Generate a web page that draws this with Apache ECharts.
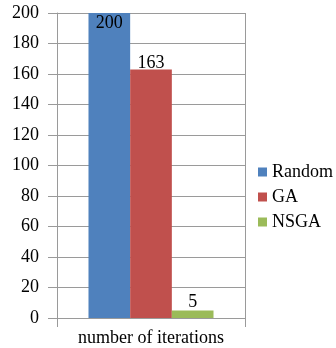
<!DOCTYPE html>
<html>
<head>
<meta charset="utf-8">
<script src="https://cdn.jsdelivr.net/npm/echarts@6/dist/echarts.min.js"></script>
<style>
  html, body { margin: 0; padding: 0; background: #fff; }
  #chart { width: 336px; height: 348px; }
</style>
</head>
<body>
<div id="chart"></div>
<script>
// Iteration counts per optimisation method
const categories = ['number of iterations'];
const seriesNames = ['Random', 'GA', 'NSGA'];
const randomValues = [200];
const gaValues = [163];
const nsgaValues = [5];
const yTicks = [0, 20, 40, 60, 80, 100, 120, 140, 160, 180, 200];

const colors = ['#4F81BD', '#C0504D', '#9BBB59'];
const font = '"Liberation Serif", "Times New Roman", serif';
const gridGray = '#9a9a9a';
const fontSize = 18;

const chart = echarts.init(document.getElementById('chart'));

function barSeries(name, values, color, labelPos, labelDist) {
  return {
    name: name,
    type: 'bar',
    data: values,
    itemStyle: { color: color },
    barGap: '0%',
    barCategoryGap: '33.5%',
    label: {
      show: true,
      position: labelPos,
      distance: labelDist,
      color: '#000',
      fontFamily: font,
      fontSize: fontSize
    }
  };
}

chart.setOption({
  animation: false,
  backgroundColor: '#fff',
  grid: { left: 57, right: 91, top: 13, bottom: 30 },
  legend: {
    orient: 'vertical',
    left: 253,
    top: 158,
    itemWidth: 9,
    itemHeight: 9,
    itemGap: 7,
    icon: 'rect',
    textStyle: {
      fontFamily: font,
      fontSize: fontSize,
      color: '#000'
    },
    data: seriesNames
  },
  xAxis: {
    type: 'category',
    data: categories,
    axisLine: { show: true, lineStyle: { color: gridGray, width: 1 } },
    axisTick: { show: true, length: 9, lineStyle: { color: gridGray } },
    splitLine: { show: true, lineStyle: { color: gridGray, width: 1 } },
    axisLabel: { color: '#000', fontFamily: font, fontSize: fontSize, margin: 11 }
  },
  yAxis: {
    type: 'value',
    min: yTicks[0],
    max: yTicks[yTicks.length - 1],
    interval: yTicks[1] - yTicks[0],
    axisLine: { show: true, lineStyle: { color: gridGray, width: 1 } },
    axisTick: { show: true, length: 9, lineStyle: { color: gridGray } },
    splitLine: { show: true, lineStyle: { color: gridGray, width: 1 } },
    axisLabel: { color: '#000', fontFamily: font, fontSize: fontSize, margin: 18 }
  },
  series: [
    barSeries(seriesNames[0], randomValues, colors[0], 'insideTop', 1),
    barSeries(seriesNames[1], gaValues, colors[1], 'top', -3),
    barSeries(seriesNames[2], nsgaValues, colors[2], 'top', -1)
  ]
});
</script>
</body>
</html>
